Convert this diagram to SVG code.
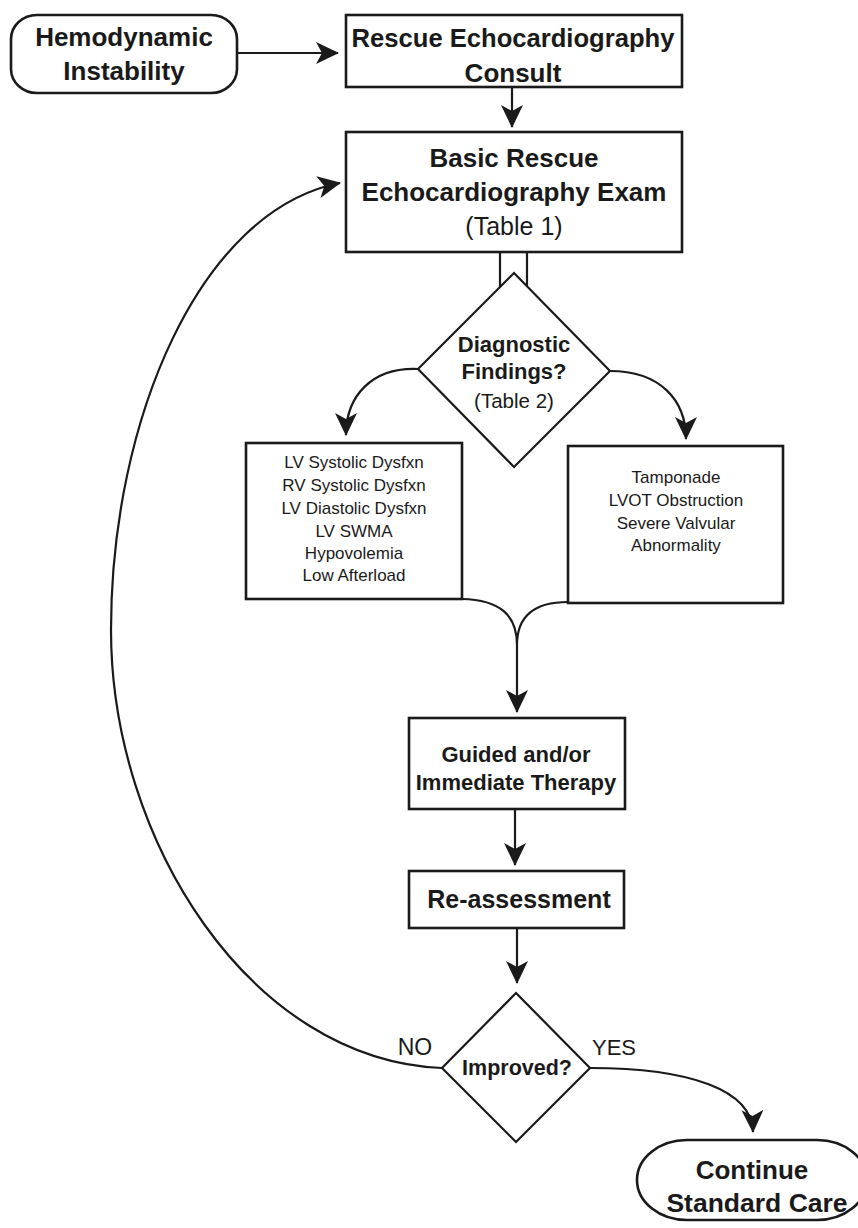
<svg xmlns="http://www.w3.org/2000/svg" width="858" height="1228" viewBox="0 0 858 1228">
<style>
.box{fill:#fff;stroke:#1a1a1a;stroke-width:2.6}
.dia{fill:#fff;stroke:#1a1a1a;stroke-width:2.2}
.ln{fill:none;stroke:#1a1a1a;stroke-width:2.2}
.b{font-family:"Liberation Sans",Arial,sans-serif;font-weight:bold;fill:#1a1a1a;text-anchor:middle}
.r{font-family:"Liberation Sans",Arial,sans-serif;fill:#1a1a1a;text-anchor:middle}
</style>
<defs>
<marker id="ah" markerUnits="userSpaceOnUse" markerWidth="26" markerHeight="24" refX="22" refY="11" orient="auto" viewBox="0 0 26 24">
<path d="M23,11 L0,0 L6,11 L0,22 Z" fill="#1a1a1a"/>
</marker>
</defs>
<rect width="858" height="1228" fill="#fff"/>
<g id="connectors">
<path class="ln" d="M237,53 L338,53" marker-end="url(#ah)"/>
<path class="ln" d="M512,87 L512,127" marker-end="url(#ah)"/>
<path class="ln" d="M500,252 L500,287 M527,252 L527,286"/>
<path class="ln" d="M418,369 C372,367 346,396 346,435" marker-end="url(#ah)"/>
<path class="ln" d="M610,371 C660,371 686,400 686,439" marker-end="url(#ah)"/>
<path class="ln" d="M462,599 C500,600 517,615 517,645 M568,602 C535,602 517,615 517,645 L517,712" marker-end="url(#ah)"/>
<path class="ln" d="M515,809 L515,865" marker-end="url(#ah)"/>
<path class="ln" d="M517,928 L517,983" marker-end="url(#ah)"/>
<path class="ln" d="M442,1068 C250,1060 111,840 111,630 C111,420 200,210 340,183" marker-end="url(#ah)"/>
<path class="ln" d="M590,1068 C690,1068 752,1090 753,1132" marker-end="url(#ah)"/>
<text class="r" x="415" y="1055" font-size="23">NO</text>
<text class="r" x="614" y="1055" font-size="22">YES</text>
</g>
<g id="hemodynamic-instability">
<rect class="box" x="11" y="15" width="226" height="78" rx="26" ry="24" stroke-width="2.2"/>
<text class="b" x="124" y="46" font-size="26">Hemodynamic</text>
<text class="b" x="124" y="80" font-size="26">Instability</text>
</g>
<g id="rescue-consult">
<rect class="box" x="346" y="15" width="336" height="72"/>
<text class="b" x="513" y="47" font-size="25.6">Rescue Echocardiography</text>
<text class="b" x="513" y="82" font-size="26">Consult</text>
</g>
<g id="basic-exam">
<rect class="box" x="346" y="132" width="336" height="120"/>
<text class="b" x="514" y="167" font-size="26">Basic Rescue</text>
<text class="b" x="514" y="201" font-size="26">Echocardiography Exam</text>
<text class="r" x="514" y="235" font-size="25">(Table 1)</text>
</g>
<g id="diagnostic-findings">
<polygon class="dia" points="514,273 610,371 514,467 418,369"/>
<text class="b" x="514" y="352" font-size="22">Diagnostic</text>
<text class="b" x="514" y="379" font-size="22">Findings?</text>
<text class="r" x="514" y="408" font-size="20.5">(Table 2)</text>
</g>
<g id="left-findings">
<rect class="box" x="246" y="443" width="216" height="156"/>
<text class="r" x="354" y="468" font-size="17">LV Systolic Dysfxn</text>
<text class="r" x="354" y="491" font-size="17">RV Systolic Dysfxn</text>
<text class="r" x="354" y="514" font-size="17">LV Diastolic Dysfxn</text>
<text class="r" x="354" y="537" font-size="17">LV SWMA</text>
<text class="r" x="354" y="559" font-size="17">Hypovolemia</text>
<text class="r" x="354" y="581" font-size="17">Low Afterload</text>
</g>
<g id="right-findings">
<rect class="box" x="568" y="446" width="215" height="157"/>
<text class="r" x="676" y="483" font-size="17">Tamponade</text>
<text class="r" x="676" y="506" font-size="17">LVOT Obstruction</text>
<text class="r" x="676" y="529" font-size="17">Severe Valvular</text>
<text class="r" x="676" y="551" font-size="17">Abnormality</text>
</g>
<g id="guided-therapy">
<rect class="box" x="409" y="718" width="216" height="91"/>
<text class="b" x="516" y="762" font-size="22">Guided and/or</text>
<text class="b" x="516" y="790" font-size="22">Immediate Therapy</text>
</g>
<g id="reassessment">
<rect class="box" x="409" y="871" width="215" height="57"/>
<text class="b" x="519" y="908" font-size="25">Re-assessment</text>
</g>
<g id="improved">
<polygon class="dia" points="516,993 590,1068 516,1142 442,1068"/>
<text class="b" x="517" y="1075" font-size="21.5">Improved?</text>
</g>
<g id="continue-care">
<rect class="box" x="637" y="1140" width="230" height="80" rx="50" ry="40" stroke-width="2.2"/>
<text class="b" x="752" y="1179" font-size="26">Continue</text>
<text class="b" x="757" y="1212" font-size="26.5">Standard Care</text>
</g>
</svg>
